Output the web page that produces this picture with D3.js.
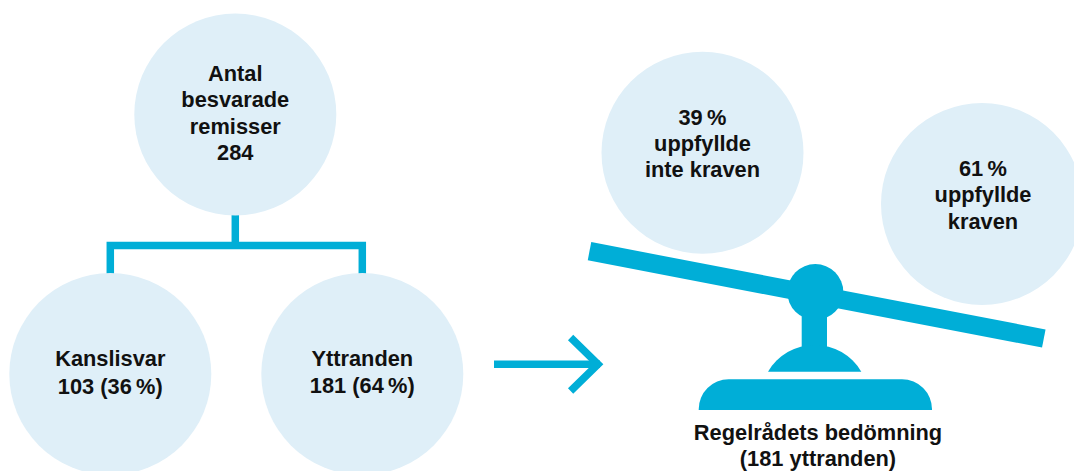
<!DOCTYPE html>
<html>
<head>
<meta charset="utf-8">
<script src="https://cdn.jsdelivr.net/npm/d3@7"></script>
<style>
  html, body { margin: 0; padding: 0; background: #fff; overflow: hidden; }
  text { font-family: "Liberation Sans", Arial, sans-serif; font-weight: 700; fill: #111; text-anchor: middle; }
</style>
</head>
<body>
<div id="chart"></div>
<script>
// values
const total = 284;
const groupNames = ['Kanslisvar', 'Yttranden'];
const groupCounts = [103, 181];
const groupShares = [36, 64];
const verdictShares = [39, 61];
const verdictLabels = [['uppfyllde', 'inte kraven'], ['uppfyllde', 'kraven']];
const totalLabel = ['Antal', 'besvarade', 'remisser'];
const scaleLabel = ['Regelrådets bedömning', 'yttranden'];

const width = 1074, height = 471;
const blue = '#00aed7', pale = '#dfeff8';
const R = 101;
const fontSize = 21.8;

const svg = d3.select('#chart').append('svg')
  .attr('width', width)
  .attr('height', height);

const line = d3.line();

function pct(v) {
  return v + '\u2009%';
}

function circle(cx, cy) {
  svg.append('circle').attr('cx', cx).attr('cy', cy).attr('r', R).attr('fill', pale);
}

function label(cx, lines, y0, step) {
  svg.append('g').selectAll('text')
    .data(lines)
    .join('text')
    .attr('x', cx)
    .attr('y', (d, i) => y0 + i * step)
    .attr('font-size', fontSize)
    .text(d => d);
}

function stroke(points, w) {
  svg.append('path')
    .attr('d', line(points))
    .attr('fill', 'none')
    .attr('stroke', blue)
    .attr('stroke-width', w);
}

// left tree
const rowX = d3.scalePoint().domain(groupNames).range([110.3, 362.3]);

stroke([[235.3, 214], [235.3, 245.5]], 7.5);
stroke([[rowX(groupNames[0]), 274], [rowX(groupNames[0]), 245.5], [rowX(groupNames[1]), 245.5], [rowX(groupNames[1]), 274]], 7.5);

circle(235.3, 114.5);
label(235.3, totalLabel.concat(String(total)), 81, 26.3);

groupNames.forEach((name, i) => {
  circle(rowX(name), 374);
  label(rowX(name), [name, groupCounts[i] + ' (' + pct(groupShares[i]) + ')'], 366, i ? 26.5 : 28);
});

// arrow
stroke([[494, 364.3], [600, 364.3]], 7.5);
stroke([[570.6, 337.5], [598, 364.3], [570.6, 391]], 7.5);

// verdict circles
circle(702.5, 152.7);
label(702.5, [pct(verdictShares[0])].concat(verdictLabels[0]), 124.5, 26);
circle(982, 204);
label(983, [pct(verdictShares[1])].concat(verdictLabels[1]), 176, 26.3);

// scale
stroke([[589.5, 251.2], [1043.8, 338.5]], 18.5);
svg.append('circle').attr('cx', 815.3).attr('cy', 292).attr('r', 28).attr('fill', blue);
svg.append('rect').attr('x', 801.7).attr('y', 300).attr('width', 25.3).attr('height', 60).attr('fill', blue);

svg.append('path')
  .attr('d', 'M768,371.7A54,54 0 0 1 861.3,371.7Z')
  .attr('fill', blue);

const base = d3.path();
base.moveTo(698.7, 410);
base.arcTo(698.7, 379.3, 729.4, 379.3, 30);
base.arcTo(932, 379.3, 932, 410, 30);
base.lineTo(932, 410);
base.closePath();
svg.append('path').attr('d', base.toString()).attr('fill', blue);

label(818, [scaleLabel[0], '(' + groupCounts[1] + ' ' + scaleLabel[1] + ')'], 440, 26);
</script>
</body>
</html>
